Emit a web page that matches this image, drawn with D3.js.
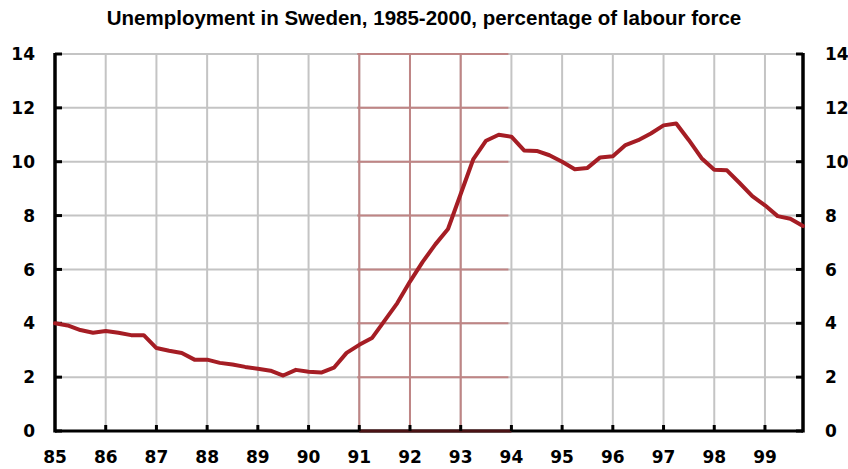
<!DOCTYPE html>
<html>
<head>
<meta charset="utf-8">
<script src="https://cdn.jsdelivr.net/npm/d3@7"></script>
<style>
  body { margin: 0; background: #fff; }
  .title { font-family: "Liberation Sans", Arial, sans-serif; font-weight: bold; font-size: 20.5px; }
  .tick-label { font-family: "DejaVu Sans", Verdana, sans-serif; font-weight: bold; font-size: 17px; }
</style>
</head>
<body>
<div id="chart"></div>
<script>
// Quarterly unemployment, Sweden 1985-1999 (% of labour force)

var quarters = [
  1985.0, 1985.25, 1985.5, 1985.75, 1986.0, 1986.25, 1986.5, 1986.75,
  1987.0, 1987.25, 1987.5, 1987.75, 1988.0, 1988.25, 1988.5, 1988.75,
  1989.0, 1989.25, 1989.5, 1989.75, 1990.0, 1990.25, 1990.5, 1990.75,
  1991.0, 1991.25, 1991.5, 1991.75, 1992.0, 1992.25, 1992.5, 1992.75,
  1993.0, 1993.25, 1993.5, 1993.75, 1994.0, 1994.25, 1994.5, 1994.75,
  1995.0, 1995.25, 1995.5, 1995.75, 1996.0, 1996.25, 1996.5, 1996.75,
  1997.0, 1997.25, 1997.5, 1997.75, 1998.0, 1998.25, 1998.5, 1998.75,
  1999.0, 1999.25, 1999.5, 1999.75
];

var unemployment = [
  4.0, 3.92, 3.75, 3.65, 3.71, 3.65, 3.56, 3.56,
  3.08, 2.98, 2.9, 2.65, 2.65, 2.53, 2.47, 2.38,
  2.31, 2.24, 2.06, 2.27, 2.2, 2.17, 2.35, 2.9,
  3.2, 3.45, 4.1, 4.75, 5.55, 6.28, 6.93, 7.5,
  8.8, 10.1, 10.78, 11.0, 10.93, 10.42, 10.4, 10.24,
  10.0, 9.72, 9.77, 10.16, 10.2, 10.62, 10.8, 11.05,
  11.35, 11.42, 10.8, 10.13, 9.7, 9.68, 9.21, 8.72,
  8.38, 7.98, 7.88, 7.61
];

var xTickYears = [1985, 1986, 1987, 1988, 1989, 1990, 1991, 1992, 1993, 1994, 1995, 1996, 1997, 1998, 1999];
var xTickLabels = ["85", "86", "87", "88", "89", "90", "91", "92", "93", "94", "95", "96", "97", "98", "99"];
var yTicks = [0, 2, 4, 6, 8, 10, 12, 14];

// crisis band (red grid)
var bandStart = 1991;
var bandEnd = 1994;

var svgWidth = 848;
var svgHeight = 469;

var plot = { left: 55, right: 803, top: 54, bottom: 431 };

var svg = d3.select("#chart")
  .append("svg")
  .attr("width", svgWidth)
  .attr("height", svgHeight);

var xScale = d3.scaleLinear()
  .domain([quarters[0], quarters[quarters.length - 1]])
  .range([plot.left, plot.right]);

var yScale = d3.scaleLinear()
  .domain([0, 14])
  .range([plot.bottom, plot.top]);

// title
svg.append("text")
  .attr("class", "title")
  .attr("x", 424)
  .attr("y", 25)
  .attr("text-anchor", "middle")
  .text("Unemployment in Sweden, 1985-2000, percentage of labour force");

// grid lines (gray everywhere, red inside the band)
function drawGrid(g, color) {
  g.selectAll(null)
    .data(xTickYears.slice(1))
    .enter()
    .append("line")
    .attr("x1", d => xScale(d))
    .attr("x2", d => xScale(d))
    .attr("y1", yScale(14))
    .attr("y2", yScale(0))
    .attr("stroke", color)
    .attr("stroke-width", 2);

  g.selectAll(null)
    .data(yTicks.slice(1))
    .enter()
    .append("line")
    .attr("x1", plot.left)
    .attr("x2", plot.right)
    .attr("y1", d => yScale(d))
    .attr("y2", d => yScale(d))
    .attr("stroke", color)
    .attr("stroke-width", 2);
}

svg.append("clipPath")
  .attr("id", "band")
  .append("rect")
  .attr("x", xScale(bandStart) - 2)
  .attr("y", 0)
  .attr("width", xScale(bandEnd) - xScale(bandStart) - 1)
  .attr("height", svgHeight);

drawGrid(svg.append("g"), "#c4c4c4");
drawGrid(svg.append("g").attr("clip-path", "url(#band)"), "#bf8585");

// axes
var axisG = svg.append("g");

axisG.append("line")
  .attr("x1", plot.left).attr("x2", plot.left)
  .attr("y1", plot.top - 1).attr("y2", plot.bottom + 1.5)
  .attr("stroke", "#000").attr("stroke-width", 3.5);

axisG.append("line")
  .attr("x1", plot.right).attr("x2", plot.right)
  .attr("y1", plot.top - 1).attr("y2", plot.bottom + 1.5)
  .attr("stroke", "#000").attr("stroke-width", 3.5);

axisG.append("line")
  .attr("x1", plot.left).attr("x2", plot.right)
  .attr("y1", plot.bottom).attr("y2", plot.bottom)
  .attr("stroke", "#000").attr("stroke-width", 3);

axisG.append("line")
  .attr("x1", xScale(bandStart)).attr("x2", xScale(bandEnd))
  .attr("y1", plot.bottom).attr("y2", plot.bottom)
  .attr("stroke", "#4a1214").attr("stroke-width", 3);

// tick marks
axisG.selectAll(null)
  .data(xTickYears.slice(1))
  .enter()
  .append("line")
  .attr("x1", d => xScale(d)).attr("x2", d => xScale(d))
  .attr("y1", plot.bottom).attr("y2", plot.bottom - 6)
  .attr("stroke", "#000").attr("stroke-width", 3);

axisG.selectAll(null)
  .data(yTicks)
  .enter()
  .append("line")
  .attr("x1", plot.left).attr("x2", plot.left + 7)
  .attr("y1", d => yScale(d)).attr("y2", d => yScale(d))
  .attr("stroke", "#000").attr("stroke-width", 3);

axisG.selectAll(null)
  .data(yTicks)
  .enter()
  .append("line")
  .attr("x1", plot.right).attr("x2", plot.right - 7)
  .attr("y1", d => yScale(d)).attr("y2", d => yScale(d))
  .attr("stroke", "#000").attr("stroke-width", 3);

// tick labels
svg.selectAll(null)
  .data(xTickYears)
  .enter()
  .append("text")
  .attr("class", "tick-label")
  .attr("x", d => xScale(d))
  .attr("y", 463)
  .attr("text-anchor", "middle")
  .text((d, i) => xTickLabels[i]);

svg.selectAll(null)
  .data(yTicks)
  .enter()
  .append("text")
  .attr("class", "tick-label")
  .attr("x", 35)
  .attr("y", d => yScale(d))
  .attr("dy", "0.36em")
  .attr("text-anchor", "end")
  .text(d => d);

svg.selectAll(null)
  .data(yTicks)
  .enter()
  .append("text")
  .attr("class", "tick-label")
  .attr("x", 825)
  .attr("y", d => yScale(d))
  .attr("dy", "0.36em")
  .attr("text-anchor", "start")
  .text(d => d);

// the unemployment line
var line = d3.line()
  .x((d, i) => xScale(quarters[i]))
  .y(d => yScale(d));

svg.append("path")
  .datum(unemployment)
  .attr("d", line)
  .attr("fill", "none")
  .attr("stroke", "#a51d24")
  .attr("stroke-width", 4)
  .attr("stroke-linejoin", "round")
  .attr("stroke-linecap", "round");
</script>
</body>
</html>
